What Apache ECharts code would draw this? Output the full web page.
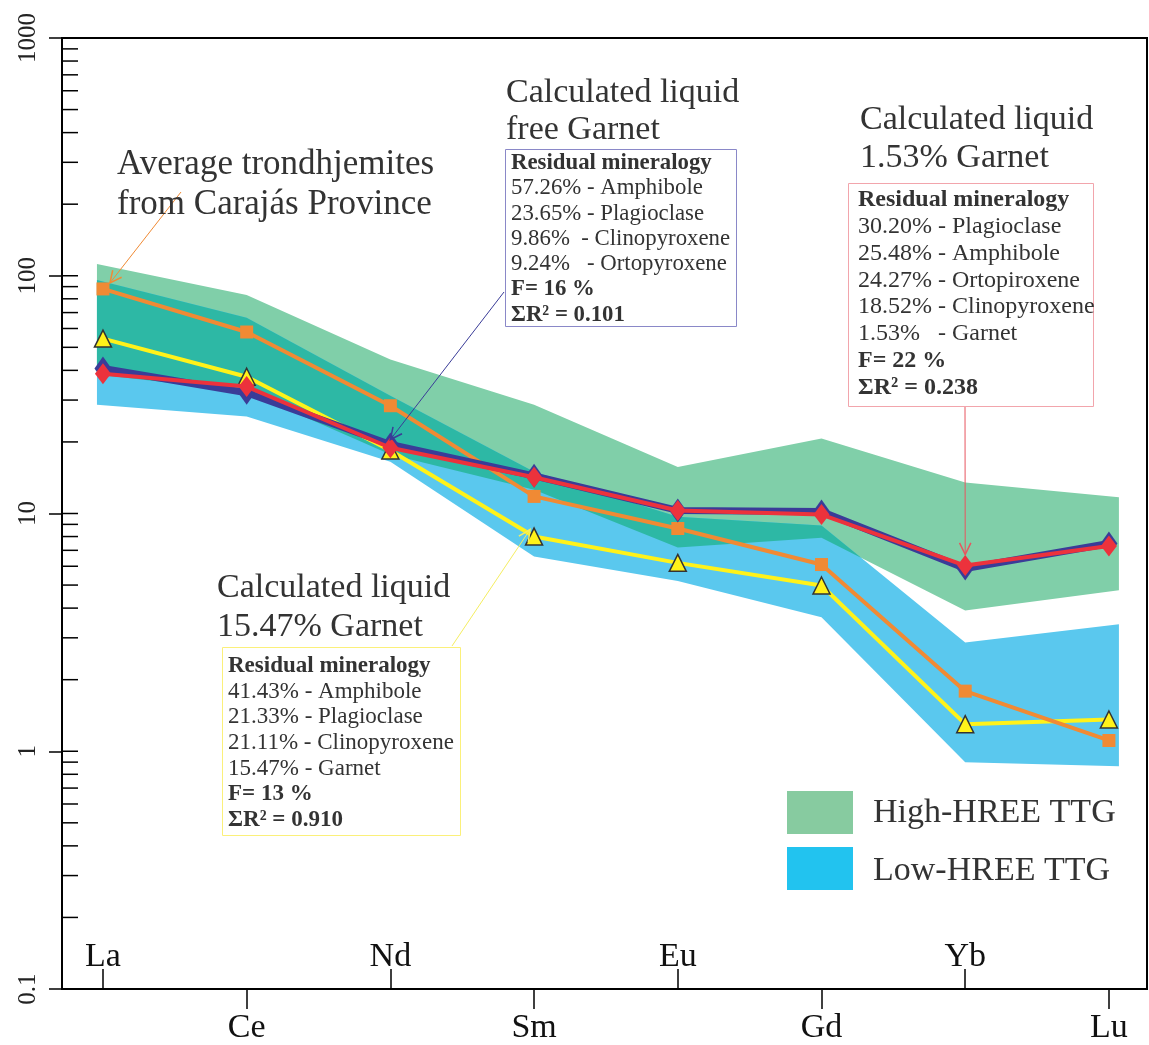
<!DOCTYPE html>
<html><head><meta charset="utf-8">
<script src="https://cdn.jsdelivr.net/npm/echarts@6/dist/echarts.min.js"></script>
<style>html,body{margin:0;padding:0;background:#fff}#c{width:1149px;height:1045px}</style>
</head><body><div id="c"></div>
<script>
// ---------- data ----------
const categories = ['La', 'Ce', 'Nd', 'Sm', 'Eu', 'Gd', 'Yb', 'Lu'];
const topRowIdx = [0, 2, 4, 6];
const bottomRowIdx = [1, 3, 5, 7];
const yTickValues = [0.1, 1, 10, 100, 1000];
const yInnerTickValues = [0.2,0.3,0.4,0.5,0.6,0.7,0.8,0.9,1,2,3,4,5,6,7,8,9,10,20,30,40,50,60,70,80,90,100,200,300,400,500,600,700,800,900];

const trondhjemites   = [88, 58, 28.4, 11.8, 8.65, 6.1, 1.79, 1.11];
const liquid1547Garnet = [54.4, 37.6, 18.4, 8.0, 6.2, 4.98, 1.3, 1.36];
const liquidFreeGarnet = [40.7, 32.2, 19.5, 14.4, 10.3, 10.2, 5.87, 7.48];
const liquid153Garnet  = [38.7, 34.2, 18.9, 14.2, 10.3, 9.9, 6.04, 7.3];

const highHreeUpper = [112, 83, 44.4, 28.7, 15.7, 20.7, 13.5, 11.7];
const highHreeLower = [38.4, 32.6, 17.7, 12.6, 7.2, 7.9, 3.91, 4.75];
const lowHreeUpper  = [96, 66.6, 31.3, 15.0, 9.7, 8.9, 2.87, 3.42];
const lowHreeLower  = [28.7, 25.6, 16.5, 6.6, 5.2, 3.66, 0.90, 0.865];

// ---------- style ----------
const X_MIN = -0.285, X_MAX = 7.265;
const BAND_PAD_LEFT = 6, BAND_PAD_RIGHT = 10;
const SERIF = '"Liberation Serif", "DejaVu Serif", serif';
const C_GREEN = '#80CFA9', C_BLUE = '#5AC8EE', C_TEAL = '#2DB8A5';
const C_ORANGE = '#F08A34', C_YELLOW = '#FFF21A', C_NAVY = '#3A3C98', C_RED = '#EC323C';
const TXT = '#333';

const chart = echarts.init(document.getElementById('c'), null, {renderer: 'canvas'});

function pairs(arr) { return arr.map((v, i) => [i, v]); }
const LAST = categories.length - 1;
function padPt(p, x) {
  if (x === 0) return [p[0] - BAND_PAD_LEFT, p[1]];
  if (x === LAST) return [p[0] + BAND_PAD_RIGHT, p[1]];
  return p;
}

function bandSeries(upper, lower, color, z) {
  return {
    type: 'custom', silent: true, z: z, data: [[0, 1]],
    renderItem: function (params, api) {
      const top = upper.map((v, i) => padPt(api.coord([i, v]), i));
      const bot = lower.map((v, i) => padPt(api.coord([i, v]), i)).reverse();
      return {type: 'polygon', shape: {points: top.concat(bot)}, style: {fill: color}};
    }
  };
}

function overlapSeries(z) {
  return {
    type: 'custom', silent: true, z: z, data: [[0, 1]],
    renderItem: function (params, api) {
      const L = Math.log10;
      const top = [], bot = [];
      for (let i = 0; i < LAST; i++) {
        const a = {gu: L(highHreeUpper[i]), gl: L(highHreeLower[i]), bu: L(lowHreeUpper[i]), bl: L(lowHreeLower[i])};
        const b = {gu: L(highHreeUpper[i+1]), gl: L(highHreeLower[i+1]), bu: L(lowHreeUpper[i+1]), bl: L(lowHreeLower[i+1])};
        const ts = [0, 1];
        [['gu','bu'], ['gl','bl'], ['gu','bl'], ['bu','gl']].forEach(function (pq) {
          const d0 = a[pq[0]] - a[pq[1]], d1 = b[pq[0]] - b[pq[1]];
          if (d0 * d1 < 0) ts.push(d0 / (d0 - d1));
        });
        ts.sort((x, y) => x - y);
        ts.forEach(function (t) {
          if (i > 0 && t === 0) return;
          const f = k => a[k] + (b[k] - a[k]) * t;
          let up = Math.min(f('gu'), f('bu')), lo = Math.max(f('gl'), f('bl'));
          if (up < lo) { up = lo = (up + lo) / 2; }
          const x = i + t;
          top.push(padPt(api.coord([x, Math.pow(10, up)]), x));
          bot.push(padPt(api.coord([x, Math.pow(10, lo)]), x));
        });
      }
      return {type: 'polygon', shape: {points: top.concat(bot.reverse())}, style: {fill: C_TEAL}};
    }
  };
}

const option = {
  animation: false,
  backgroundColor: '#fff',
  grid: {left: 62, right: 2, top: 38, bottom: 55, show: true, borderColor: '#000', borderWidth: 2, backgroundColor: 'transparent'},
  xAxis: [
    {
      type: 'value', min: X_MIN, max: X_MAX, position: 'bottom',
      axisLine: {show: true, onZero: false, lineStyle: {color: '#000', width: 2}},
      axisTick: {show: true, inside: true, length: 20, customValues: topRowIdx, lineStyle: {color: '#000', width: 1.5}},
      axisLabel: {inside: true, customValues: topRowIdx, formatter: v => categories[Math.round(v)],
                  fontSize: 34, fontFamily: SERIF, color: '#111', margin: 15},
      splitLine: {show: false}
    },
    {
      type: 'value', min: X_MIN, max: X_MAX, position: 'bottom',
      axisLine: {show: false, onZero: false},
      axisTick: {show: true, inside: false, length: 20, customValues: bottomRowIdx, lineStyle: {color: '#000', width: 1.5}},
      axisLabel: {inside: false, customValues: bottomRowIdx, formatter: v => categories[Math.round(v)],
                  fontSize: 34, fontFamily: SERIF, color: '#111', margin: 22},
      splitLine: {show: false}
    }
  ],
  yAxis: {
    type: 'log', logBase: 10, min: 0.1, max: 1000,
    axisLine: {show: true, onZero: false, lineStyle: {color: '#000', width: 2}},
    axisTick: {show: true, inside: false, length: 13, customValues: yTickValues, lineStyle: {color: '#000', width: 1.5}},
    axisLabel: {customValues: yTickValues, rotate: 90, fontSize: 25, fontFamily: SERIF, color: '#222', margin: 21,
                formatter: v => String(v)},
    splitLine: {show: false}
  },
  series: [
    bandSeries(highHreeUpper, highHreeLower, C_GREEN, 1),
    bandSeries(lowHreeUpper, lowHreeLower, C_BLUE, 1),
    overlapSeries(1),
    {
      type: 'custom', silent: true, z: 2, data: yInnerTickValues.map(v => [X_MIN, v]),
      renderItem: function (params, api) {
        const p = api.coord([X_MIN, api.value(1)]);
        return {type: 'line', shape: {x1: p[0], y1: p[1], x2: p[0] + 16, y2: p[1]}, style: {stroke: '#000', lineWidth: 1.5}};
      }
    },
    {
      name: '15.47% Garnet', type: 'line', z: 3, data: pairs(liquid1547Garnet),
      symbol: 'triangle', symbolSize: 17,
      lineStyle: {color: C_YELLOW, width: 4},
      itemStyle: {color: C_YELLOW, borderColor: '#333', borderWidth: 1.5}
    },
    {
      name: 'Trondhjemites', type: 'line', z: 4, data: pairs(trondhjemites),
      symbol: 'rect', symbolSize: 13,
      lineStyle: {color: C_ORANGE, width: 4},
      itemStyle: {color: C_ORANGE}
    },
    {
      name: 'free Garnet', type: 'line', z: 5, data: pairs(liquidFreeGarnet),
      symbol: 'diamond', symbolSize: [17, 24],
      lineStyle: {color: C_NAVY, width: 7},
      itemStyle: {color: C_NAVY}
    },
    {
      name: '1.53% Garnet', type: 'line', z: 6, data: pairs(liquid153Garnet),
      symbol: 'diamond', symbolSize: [16, 21],
      lineStyle: {color: C_RED, width: 4},
      itemStyle: {color: C_RED}
    }
  ]
};
chart.setOption(option);

// ---------- annotations ----------
function txt(x, y, s, size, bold) {
  return {type: 'text', silent: true, z: 50, style: {x: x, y: y, text: s, fill: TXT,
    font: (bold ? 'bold ' : '') + size + 'px ' + SERIF, textAlign: 'left', textVerticalAlign: 'middle'}};
}
function box(x, y, w, h, color) {
  return {type: 'rect', silent: true, z: 49, shape: {x: x, y: y, width: w, height: h},
    style: {fill: '#fff', stroke: color, lineWidth: 1}};
}
function arrow(x1, y1, x2, y2, color) {
  const a = Math.atan2(y2 - y1, x2 - x1), L = 13, s = 0.45;
  return [
    {type: 'polyline', silent: true, z: 48, shape: {points: [[x1, y1], [x2, y2]]}, style: {stroke: color, lineWidth: 1, fill: null}},
    {type: 'polyline', silent: true, z: 48, shape: {points: [
      [x2 - L * Math.cos(a - s), y2 - L * Math.sin(a - s)], [x2, y2],
      [x2 - L * Math.cos(a + s), y2 - L * Math.sin(a + s)]]}, style: {stroke: color, lineWidth: 1.5, fill: null}}
  ];
}
function lines(x, y0, step, arr, size) {
  return arr.map((s, i) => txt(x, y0 + i * step, s, size, i === 0 || i >= arr.length - 2));
}
const px = (i, v) => chart.convertToPixel({xAxisIndex: 0, yAxisIndex: 0}, [i, v]);
const tipOrange = px(0, trondhjemites[0]);
const tipNavy = px(2, liquidFreeGarnet[2]);
const tipRed = px(6, liquid153Garnet[6]);
const tipYellow = px(3, liquid1547Garnet[3]);

let g = [];
g = g.concat(arrow(181, 192, tipOrange[0] + 7, tipOrange[1] - 6, C_ORANGE));
g = g.concat(arrow(504, 292, tipNavy[0], tipNavy[1] - 5, C_NAVY));
g = g.concat(arrow(965, 407, tipRed[0], tipRed[1] - 11, '#E8555F'));
g = g.concat(arrow(452, 646, tipYellow[0] - 4, tipYellow[1] - 7, '#F5EE60'));

g.push(txt(117, 165, 'Average trondhjemites', 35));
g.push(txt(117, 205, 'from Carajás Province', 35));

g.push(txt(506, 93, 'Calculated liquid', 34));
g.push(txt(506, 130, 'free Garnet', 34));
g.push(box(505.5, 149.5, 231, 177, '#8A88C8'));
g = g.concat(lines(511, 163, 25.3, ['Residual mineralogy', '57.26% - Amphibole', '23.65% - Plagioclase',
  '9.86%  - Clinopyroxene', '9.24%   - Ortopyroxene', 'F= 16 %', 'ΣR² = 0.101'], 22.8));

g.push(txt(860, 120, 'Calculated liquid', 34));
g.push(txt(860, 158, '1.53% Garnet', 34));
g.push(box(848.5, 183.5, 245, 223, '#F2A5AC'));
g = g.concat(lines(858, 200, 26.8, ['Residual mineralogy', '30.20% - Plagioclase', '25.48% - Amphibole',
  '24.27% - Ortopiroxene', '18.52% - Clinopyroxene', '1.53%   - Garnet', 'F= 22 %', 'ΣR² = 0.238'], 24));

g.push(txt(217, 588, 'Calculated liquid', 34));
g.push(txt(217, 627, '15.47% Garnet', 34));
g.push(box(222.5, 647.5, 238, 188, '#FBF07A'));
g = g.concat(lines(228, 666, 25.7, ['Residual mineralogy', '41.43% - Amphibole', '21.33% - Plagioclase',
  '21.11% - Clinopyroxene', '15.47% - Garnet', 'F= 13 %', 'ΣR² = 0.910'], 23));

g.push({type: 'rect', silent: true, z: 49, shape: {x: 787, y: 791, width: 66, height: 43}, style: {fill: '#87CBA0'}});
g.push({type: 'rect', silent: true, z: 49, shape: {x: 787, y: 847, width: 66, height: 43}, style: {fill: '#22C3EF'}});
g.push(txt(873, 813, 'High-HREE TTG', 34));
g.push(txt(873, 871, 'Low-HREE TTG', 34));

chart.setOption({graphic: {elements: g}});
</script></body></html>
